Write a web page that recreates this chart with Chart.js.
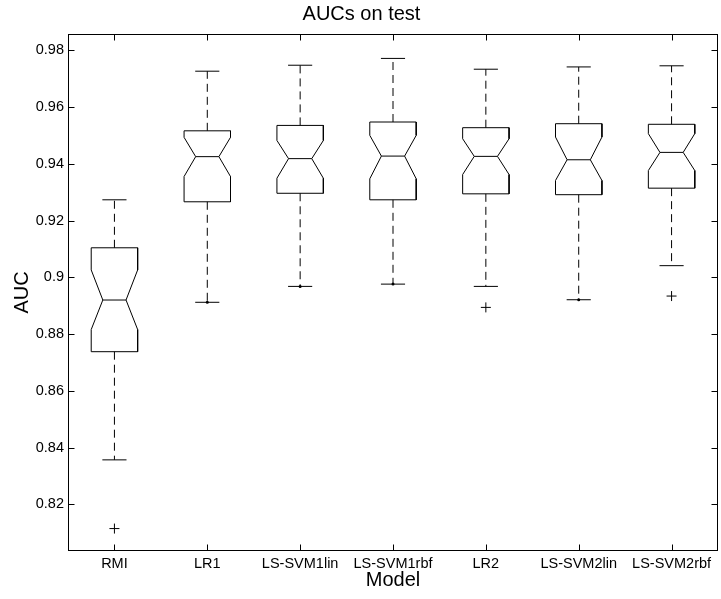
<!DOCTYPE html>
<html>
<head>
<meta charset="utf-8">
<script src="https://cdn.jsdelivr.net/npm/chart.js@4"></script>
<style>
  html, body { margin: 0; padding: 0; background: #fff; overflow: hidden; }
  #wrap { width: 724px; height: 599px; }
</style>
</head>
<body>
<div id="wrap"><canvas id="boxChart" width="724" height="599"></canvas></div>
<script>
var models = ['RMI', 'LR1', 'LS-SVM1lin', 'LS-SVM1rbf', 'LR2', 'LS-SVM2lin', 'LS-SVM2rbf'];
var whiskerHigh = [0.9273, 0.9726, 0.9747, 0.9771, 0.9733, 0.9741, 0.9745];
var q3 = [0.9104, 0.9516, 0.9535, 0.9547, 0.9527, 0.9541, 0.9539];
var notchHigh = [0.9026, 0.9493, 0.9482, 0.9500, 0.9488, 0.9494, 0.9506];
var medians = [0.8920, 0.9425, 0.9418, 0.9427, 0.9426, 0.9414, 0.9440];
var notchLow = [0.8816, 0.9355, 0.9349, 0.9347, 0.9362, 0.9341, 0.9376];
var q1 = [0.8738, 0.9266, 0.9296, 0.9273, 0.9294, 0.9291, 0.9314];
var whiskerLow = [0.8357, 0.8912, 0.8968, 0.8976, 0.8968, 0.8921, 0.9041];
var whiskerDots = [null, 0.8912, 0.8968, 0.8976, null, 0.8921, null];
var outlierModel = [1, 5, 7];
var outlierValue = [0.8115, 0.8894, 0.8934];
var yTicks = [0.82, 0.84, 0.86, 0.88, 0.9, 0.92, 0.94, 0.96, 0.98];

var FONT = "'Liberation Sans', Arial, Helvetica, sans-serif";
var BOX_W = 0.25, NOTCH_W = 0.125, CAP_W = 0.13;

// build line point lists (null breaks the line between shapes)
var boxPts = [], whiskPts = [], capPts = [], dotPts = [];
for (var i = 0; i < models.length; i++) {
	var c = i + 1;
	boxPts.push(
		{x: c - BOX_W, y: q1[i]}, {x: c - BOX_W, y: notchLow[i]}, {x: c - NOTCH_W, y: medians[i]},
		{x: c - BOX_W, y: notchHigh[i]}, {x: c - BOX_W, y: q3[i]}, {x: c + BOX_W, y: q3[i]},
		{x: c + BOX_W, y: notchHigh[i]}, {x: c + NOTCH_W, y: medians[i]}, {x: c + BOX_W, y: notchLow[i]},
		{x: c + BOX_W, y: q1[i]}, {x: c - BOX_W, y: q1[i]}, {x: c, y: null},
		{x: c - NOTCH_W, y: medians[i]}, {x: c + NOTCH_W, y: medians[i]}, {x: c, y: null}
	);
	whiskPts.push({x: c, y: q3[i]}, {x: c, y: whiskerHigh[i]}, {x: c, y: null},
		{x: c, y: q1[i]}, {x: c, y: whiskerLow[i]}, {x: c, y: null});
	capPts.push({x: c - CAP_W, y: whiskerHigh[i]}, {x: c + CAP_W, y: whiskerHigh[i]}, {x: c, y: null},
		{x: c - CAP_W, y: whiskerLow[i]}, {x: c + CAP_W, y: whiskerLow[i]}, {x: c, y: null});
	if (whiskerDots[i] !== null) dotPts.push({x: c, y: whiskerDots[i]});
}
var outPts = outlierModel.map(function (m, k) { return {x: m, y: outlierValue[k]}; });

var frameTicks = {
	id: 'frameTicks',
	afterDraw: function (chart) {
		var ctx = chart.ctx, a = chart.chartArea, len = 6;
		var L = Math.round(a.left) + 0.5, R = Math.round(a.right) - 0.5;
		var T = Math.round(a.top) + 0.5, B = Math.round(a.bottom) - 0.5;
		ctx.save();
		ctx.strokeStyle = '#000';
		ctx.lineWidth = 1;
		ctx.strokeRect(L, T, R - L, B - T);
		ctx.beginPath();
		chart.scales.y.ticks.forEach(function (t) {
			var py = Math.round(chart.scales.y.getPixelForValue(t.value)) + 0.5;
			ctx.moveTo(L, py); ctx.lineTo(L + len, py);
			ctx.moveTo(R, py); ctx.lineTo(R - len, py);
		});
		chart.scales.x.ticks.forEach(function (t) {
			var px = Math.round(chart.scales.x.getPixelForValue(t.value)) + 0.5;
			ctx.moveTo(px, B); ctx.lineTo(px, B - len);
			ctx.moveTo(px, T); ctx.lineTo(px, T + len);
		});
		ctx.stroke();
		ctx.restore();
	}
};

var ctx = document.getElementById('boxChart').getContext('2d');
var boxChart = new Chart(ctx, {
	type: 'line',
	data: {
		datasets: [{
			label: 'boxes', data: boxPts, borderColor: '#000', borderWidth: 1,
			pointRadius: 0, spanGaps: false, tension: 0
		}, {
			label: 'whiskers', data: whiskPts, borderColor: '#000', borderWidth: 1, borderDash: [8, 5],
			pointRadius: 0, spanGaps: false, tension: 0
		}, {
			label: 'caps', data: capPts, borderColor: '#000', borderWidth: 1,
			pointRadius: 0, spanGaps: false, tension: 0
		}, {
			label: 'dots', data: dotPts, showLine: false, pointRadius: 1.5,
			pointBackgroundColor: '#000', pointBorderColor: '#000', pointBorderWidth: 0
		}, {
			label: 'outliers', data: outPts, showLine: false, pointStyle: 'cross',
			pointRadius: 5, pointBorderColor: '#000', pointBorderWidth: 1
		}]
	},
	options: {
		responsive: false,
		animation: false,
		devicePixelRatio: 1,
		layout: { padding: { left: 0, right: 1, top: 0, bottom: 0 } },
		plugins: {
			legend: { display: false },
			tooltip: { enabled: false },
			title: {
				display: true, text: 'AUCs on test', color: '#000',
				font: { family: FONT, size: 20, weight: 'normal' },
				padding: { top: 2, bottom: 8 }
			}
		},
		scales: {
			x: {
				type: 'linear', min: 0.5, max: 7.5,
				afterBuildTicks: function (s) { s.ticks = models.map(function (m, k) { return {value: k + 1}; }); },
				afterFit: function (s) { s.height = 48; },
				grid: { display: false, drawTicks: false },
				border: { display: false },
				ticks: {
					autoSkip: false, maxRotation: 0, padding: 4, color: '#000',
					font: { family: FONT, size: 14.5 },
					callback: function (v) { return models[Math.round(v) - 1]; }
				},
				title: {
					display: true, text: 'Model', color: '#000',
					font: { family: FONT, size: 20 }, padding: { top: 0, bottom: 7 }
				}
			},
			y: {
				type: 'linear', min: 0.8036, max: 0.9857,
				afterBuildTicks: function (s) { s.ticks = yTicks.map(function (v) { return {value: v}; }); },
				afterFit: function (s) { s.width = 68; },
				grid: { display: false, drawTicks: false },
				border: { display: false },
				ticks: {
					padding: 4, color: '#000',
					font: { family: FONT, size: 14.5 },
					callback: function (v) { return String(Number(v.toFixed(2))); }
				},
				title: {
					display: true, text: 'AUC', color: '#000',
					font: { family: FONT, size: 20 }, padding: { top: 10, bottom: 0 }
				}
			}
		}
	},
	plugins: [frameTicks]
});
</script>
</body>
</html>
